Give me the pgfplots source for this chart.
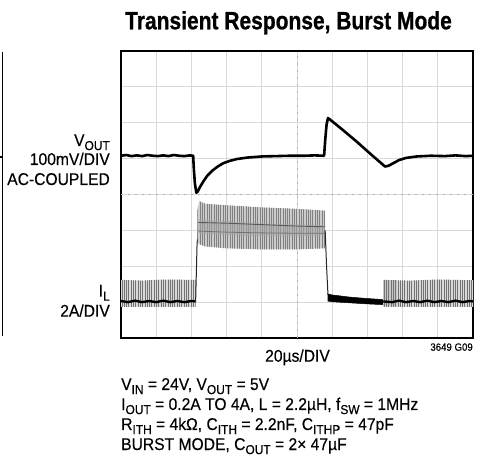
\documentclass[border=0pt]{standalone}
\usepackage{pgfplots}
\pgfplotsset{compat=1.18}
\usepackage{fontspec}
\setmainfont{Liberation Sans}[FakeStretch=0.92, FakeBold=0.3]
\newfontfamily\titlefont{Liberation Sans}[FakeStretch=0.84, BoldFeatures={FakeBold=0.8}]
\usetikzlibrary{patterns.meta}
\newcommand\sub[1]{\raisebox{-0.24em}{\fontsize{13}{13}\selectfont #1}}
\tikzset{stripes/.style={pattern={Lines[angle=90, distance=2.3pt, line width=0.7pt]}, pattern color=#1}}
\begin{document}
\begin{tikzpicture}[x=1pt,y=1pt]
\useasboundingbox (0,0) rectangle (486,462);
% fragment of neighbouring chart
\draw[line width=1.2pt] (2.7,410) -- (2.7,125.5);
\draw[line width=1.2pt] (0,305) -- (2.7,305);
% title
\node[anchor=base, inner sep=0] at (288.5,432.7) {\titlefont\bfseries\fontsize{25}{28}\selectfont Transient Response, Burst Mode};
\begin{axis}[at={(121pt,124pt)}, anchor=south west, scale only axis,
  width=352pt, height=287pt, xmin=0, xmax=10, ymin=0, ymax=8,
  xtick={1,...,9}, ytick={1,...,7}, xticklabels={}, yticklabels={},
  major tick length=0pt, grid=major, grid style={gray!30, line width=0.9pt},
  axis line style={line width=1.6pt}, clip=true]
% centre lines with ticks
\addplot[gray!60, line width=1pt, dash pattern=on 1.5pt off 5.5pt] coordinates {(0,4)(10,4)};
\addplot[gray!60, line width=1pt, dash pattern=on 1.5pt off 5.5pt] coordinates {(5,0)(5,8)};
% ---- IL : left burst
\addplot[fill=gray!30, draw=none] coordinates {(0,1.62)(0.6,1.6)(1.2,1.63)(2.12,1.62)(2.12,0.87)(0,0.87)};
\addplot[stripes=black!55, draw=none] coordinates {(0,1.62)(0.6,1.6)(1.2,1.63)(2.12,1.62)(2.12,0.87)(0,0.87)};
\addplot[black, line width=2.4pt] coordinates {(0,1.03)(0.2,1.0)(0.4,1.04)(0.6,1.0)(0.8,1.03)(1.0,1.0)(1.2,1.04)(1.4,1.0)(1.6,1.03)(1.8,1.0)(2.0,1.03)(2.12,1.02)};
% rising edge
\addplot[black!85, line width=1pt] coordinates {(2.12,1.0)(2.16,2.6)(2.2,3.1)};
% high current band
\addplot[fill=gray!40, draw=none] coordinates {(2.17,3.55)(2.22,3.82)(2.4,3.74)(3,3.7)(4,3.64)(5,3.6)(5.8,3.55)(5.8,2.5)(5,2.47)(4,2.47)(3,2.5)(2.4,2.55)(2.2,2.62)(2.17,2.8)};
\addplot[stripes=black!50, draw=none] coordinates {(2.17,3.55)(2.22,3.82)(2.4,3.74)(3,3.7)(4,3.64)(5,3.6)(5.8,3.55)(5.8,2.5)(5,2.47)(4,2.47)(3,2.5)(2.4,2.55)(2.2,2.62)(2.17,2.8)};
\addplot[fill=gray!70, draw=none, opacity=0.6] coordinates {(2.2,3.3)(3,3.26)(4,3.2)(5,3.16)(5.8,3.14)(5.8,2.86)(5,2.84)(4,2.84)(3,2.86)(2.2,2.92)};
\addplot[black!65, line width=0.9pt] coordinates {(2.2,3.22)(3,3.2)(4,3.16)(5,3.12)(5.8,3.1)};
\addplot[black!55, line width=0.8pt] coordinates {(2.2,2.98)(3,2.95)(4,2.93)(5,2.92)(5.8,2.92)};
% falling edge
\addplot[black!85, line width=1pt] coordinates {(5.8,3.0)(5.84,2.0)(5.88,1.2)};
% low current black band
\addplot[fill=black, draw=black, line width=0.5pt] coordinates {(5.87,1.23)(6.0,1.2)(6.5,1.14)(7.0,1.1)(7.45,1.07)(7.45,0.93)(7.0,0.95)(6.5,0.98)(6.0,1.01)(5.87,1.03)};
% ---- IL : right burst
\addplot[fill=gray!30, draw=none] coordinates {(7.45,1.62)(8.2,1.6)(9,1.63)(10,1.61)(10,0.87)(7.45,0.87)};
\addplot[fill=gray!45, draw=none] coordinates {(7.45,1.62)(7.85,1.62)(7.85,0.9)(7.45,0.9)};
\addplot[stripes=black!55, draw=none] coordinates {(7.45,1.62)(8.2,1.6)(9,1.63)(10,1.61)(10,0.87)(7.45,0.87)};
\addplot[black, line width=2.4pt] coordinates {(7.45,1.02)(7.7,1.0)(7.9,1.04)(8.1,1.0)(8.3,1.03)(8.5,1.0)(8.7,1.04)(8.9,1.0)(9.1,1.03)(9.3,1.0)(9.5,1.04)(9.7,1.0)(9.9,1.03)(10,1.02)};
% ---- VOUT
\addplot[black, line width=2.6pt, line join=round] coordinates {(0,5.08)(0.15,5.1)(0.3,5.07)(0.45,5.09)(0.6,5.07)(0.75,5.1)(0.9,5.08)(1.05,5.07)(1.2,5.09)(1.35,5.07)(1.5,5.1)(1.65,5.08)(1.8,5.07)(1.95,5.09)(2.05,5.08)(2.07,4.7)(2.1,4.3)(2.14,4.05)(2.18,4.08)(2.25,4.22)(2.35,4.38)(2.45,4.52)(2.6,4.67)(2.75,4.78)(2.9,4.87)(3.1,4.94)(3.3,4.99)(3.6,5.03)(4.0,5.06)(4.4,5.07)(4.8,5.08)(5.2,5.08)(5.5,5.09)(5.77,5.08)(5.8,5.5)(5.84,5.95)(5.88,6.13)(5.95,6.08)(6.3,5.8)(6.7,5.47)(7.1,5.12)(7.5,4.78)(7.6,4.8)(7.75,4.88)(7.9,4.96)(8.1,5.02)(8.4,5.06)(8.8,5.08)(9.2,5.07)(9.5,5.09)(9.8,5.07)(10,5.08)};
\end{axis}
% left labels
\begin{scope}[every node/.style={anchor=base east, inner sep=0, font=\fontsize{17}{20}\selectfont}]
\node at (110,316) {V\sub{OUT}};
\node at (110,297) {100mV/DIV};
\node at (110,277) {AC-COUPLED};
\node at (110,165.5) {I\sub{L}};
\node at (110,145.3) {2A/DIV};
\end{scope}
\node[anchor=base, inner sep=0, font=\fontsize{17}{20}\selectfont] at (297.5,100.3) {20µs/DIV};
\node[anchor=base east, inner sep=0, font=\fontsize{10.5}{12}\selectfont] at (473,111.3) {3649 G09};
\begin{scope}[every node/.style={anchor=base west, inner sep=0, font=\fontsize{17}{20}\selectfont}]
\node at (121,72) {V\sub{IN} = 24V, V\sub{OUT} = 5V};
\node at (121,52) {I\sub{OUT} = 0.2A TO 4A, L = 2.2µH, f\sub{SW} = 1MHz};
\node at (121,32) {R\sub{ITH} = 4kΩ, C\sub{ITH} = 2.2nF, C\sub{ITHP} = 47pF};
\node at (121,12) {BURST MODE, C\sub{OUT} = 2× 47µF};
\end{scope}
\end{tikzpicture}
\end{document}
